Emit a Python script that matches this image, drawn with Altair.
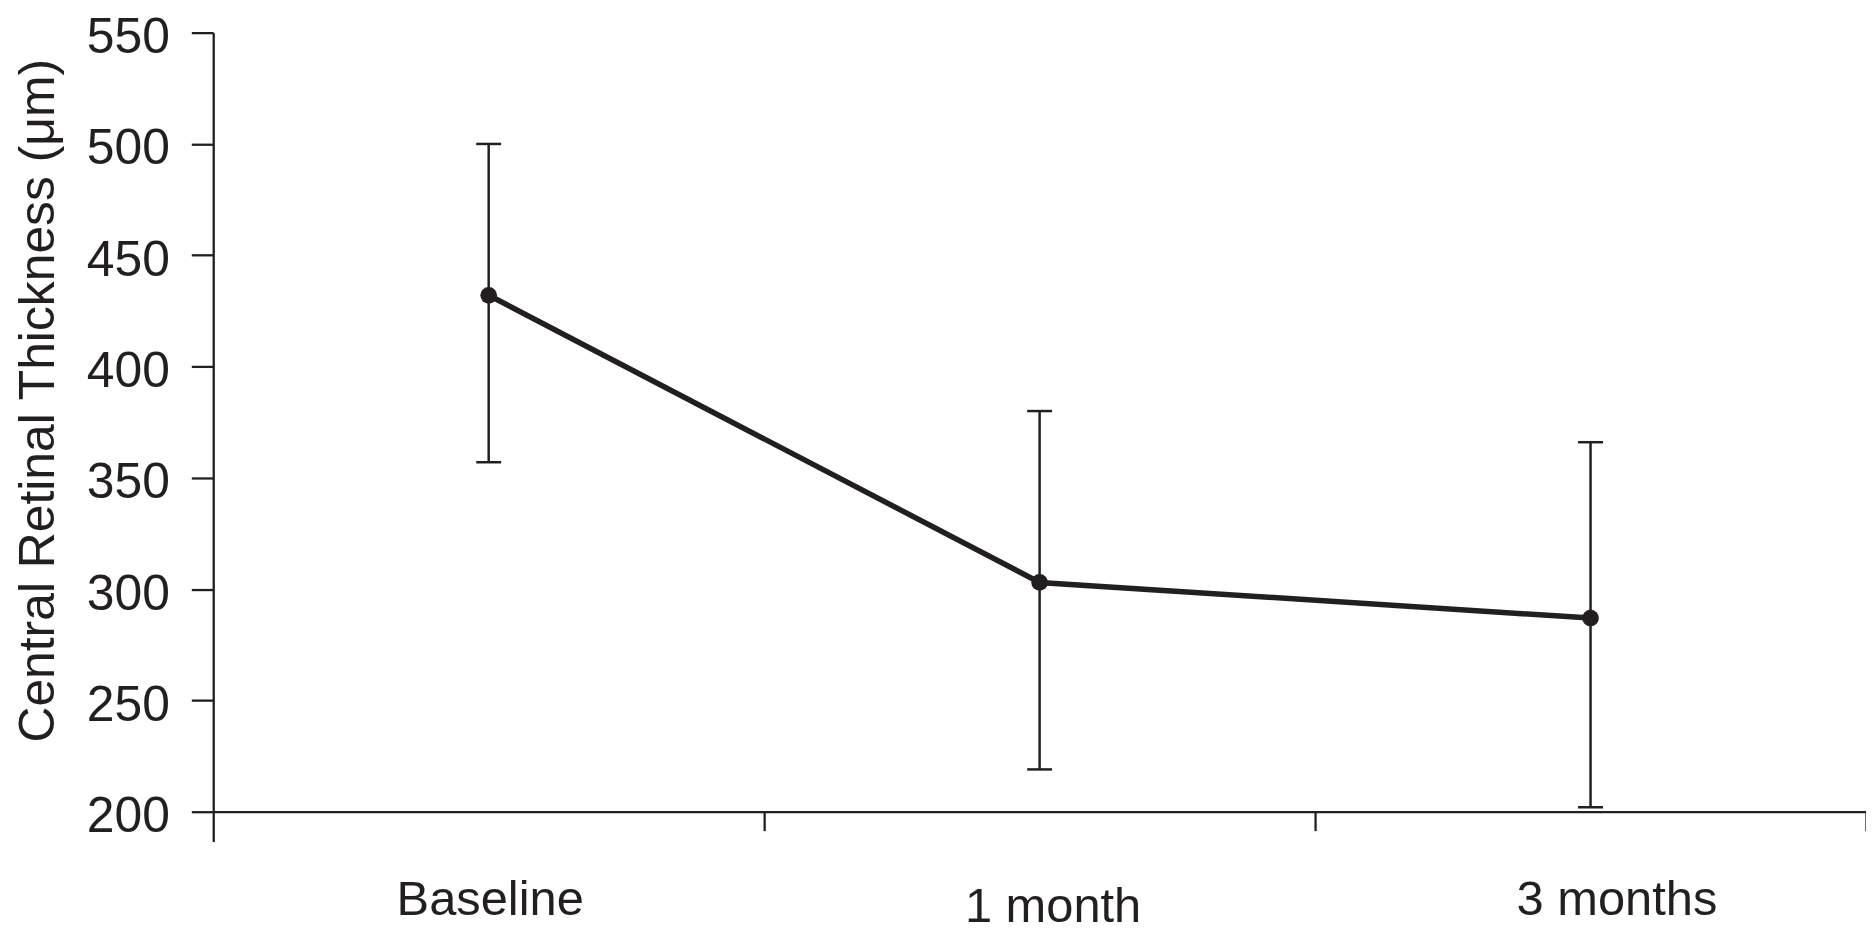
import json
import altair as alt
import pandas as pd

# ---- data ----
times = ["Baseline", "1 month", "3 months"]
means = [432, 303, 287]
upper = [500, 380, 366]
lower = [357, 219, 202]
y_ticks = [200, 250, 300, 350, 400, 450, 500, 550]
x_ticks = [0, 0.5, 1, 1.5, 2, 2.5, 3]

df = pd.DataFrame({"time": times, "mean": means, "upper": upper, "lower": lower})

INK = "#231f20"
FONT = "Liberation Sans"
times_js = json.dumps(times)

base = alt.Chart(df).transform_calculate(
    pos=f"indexof({times_js}, datum.time) + 0.5"
)

xscale = alt.Scale(domain=[0, 3], nice=False, zero=False)
yscale = alt.Scale(domain=[200, 550], nice=False, zero=False)

x_axis = alt.Axis(
    orient="bottom",
    values=x_ticks,
    grid=False,
    title=None,
    domainColor=INK,
    domainWidth=2.3,
    tickColor=INK,
    tickWidth=2.3,
    tickSize={"condition": {"test": "datum.value == 0", "value": 30}, "value": 19},
    tickOpacity={"condition": {"test": "datum.value % 1 != 0", "value": 0}, "value": 1},
    labelExpr=f"datum.value % 1 != 0 ? {times_js}[floor(datum.value)] : ''",
    labelFont=FONT,
    labelFontSize=49,
    labelColor=INK,
    labelBaseline="alphabetic",
    labelPadding={"condition": {"test": "datum.value == 1.5", "value": 91}, "value": 84},
    labelOffset={
        "condition": [
            {"test": "datum.value == 1.5", "value": 13},
            {"test": "datum.value == 2.5", "value": 26},
        ],
        "value": 1,
    },
    labelLimit=0,
    labelFlush=False,
    labelOverlap=False,
)

y_axis = alt.Axis(
    values=y_ticks,
    grid=False,
    title="Central Retinal Thickness (μm)",
    titleFont=FONT,
    titleFontSize=50,
    titleFontWeight="normal",
    titleColor=INK,
    titleX=-160,
    titleY=369,
    titleAlign="center",
    titleBaseline="alphabetic",
    titleLimit=0,
    domainColor=INK,
    domainWidth=2.3,
    tickColor=INK,
    tickWidth=2.3,
    tickSize=22,
    labelFont=FONT,
    labelFontSize=50,
    labelColor=INK,
    labelPadding=22,
    labelOffset=5,
    labelLimit=0,
    labelFlush=False,
    labelOverlap=False,
)

X = alt.X("pos:Q", scale=xscale, axis=x_axis)


def Y(field):
    return alt.Y(f"{field}:Q", scale=yscale, axis=y_axis)


rules = base.mark_rule(color=INK, strokeWidth=2.5).encode(
    x=X, y=Y("lower"), y2="upper:Q"
)
cap_top = base.mark_tick(orient="horizontal", size=25, thickness=2.5, color=INK, opacity=1).encode(
    x=X, y=Y("upper")
)
cap_bot = base.mark_tick(orient="horizontal", size=25, thickness=2.5, color=INK, opacity=1).encode(
    x=X, y=Y("lower")
)
line = base.mark_line(color=INK, strokeWidth=5.5).encode(x=X, y=Y("mean"))
points = base.mark_circle(size=280, color=INK, opacity=1).encode(
    x=X, y=Y("mean")
)

chart = (
    alt.layer(rules, cap_top, cap_bot, line, points)
    .properties(
        width=1659,
        height=782,
        autosize=alt.AutoSizeParams(type="none"),
        padding={"left": 206, "top": 23, "right": 0, "bottom": 119},
        background="white",
    )
    .configure_view(stroke=None)
)

chart.save("out.html", embed_options={"renderer": "svg", "actions": False})
